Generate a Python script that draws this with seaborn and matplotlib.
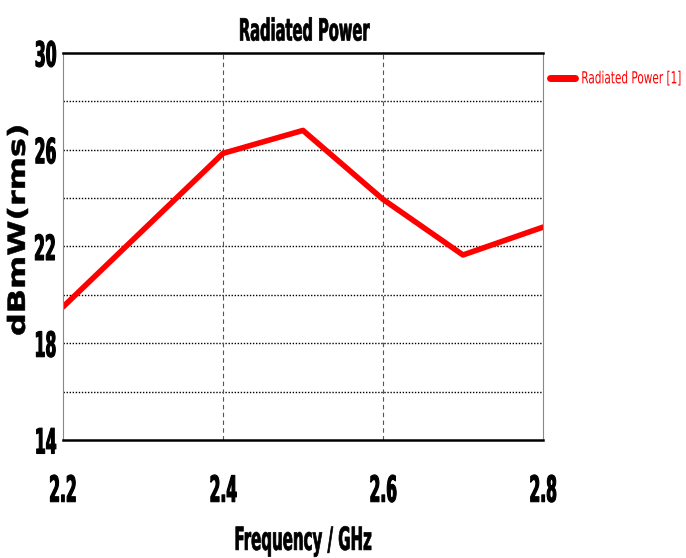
import matplotlib
matplotlib.use("Agg")
import matplotlib.pyplot as plt
import seaborn as sns
import pandas as pd
from matplotlib.patheffects import AbstractPathEffect
from matplotlib.transforms import Affine2D

freq = [2.2, 2.4, 2.5, 2.6, 2.7, 2.8]
power = [19.5, 25.85, 26.8, 23.95, 21.65, 22.8]
series_name = "Radiated Power [1]"
x_ticks = [2.2, 2.4, 2.6, 2.8]
y_ticks = [14, 18, 22, 26, 30]


class Squeeze(AbstractPathEffect):
    """Horizontally rescale glyph outlines (text stays a Text artist)."""
    def __init__(self, sx=0.5, anchor="center", stroke=0.0):
        super().__init__()
        self.sx = sx
        self.anchor = anchor
        self.stroke = stroke

    def draw_path(self, renderer, gc, tpath, affine, rgbFace=None):
        ext = tpath.get_extents()
        if self.anchor == "right":
            cx = ext.x1
        elif self.anchor == "left":
            cx = 0.0
        else:
            cx = 0.5 * (ext.x0 + ext.x1)
        t = Affine2D().translate(-cx, 0).scale(self.sx, 1.0).translate(cx, 0) + affine
        gc0 = renderer.new_gc()
        gc0.copy_properties(gc)
        if self.stroke > 0 and rgbFace is not None:
            gc0.set_linewidth(self.stroke)
            gc0.set_foreground(rgbFace)
            gc0.set_joinstyle("round")
        renderer.draw_path(gc0, tpath, t, rgbFace)
        gc0.restore()


sns.set_theme(style="white")
plt.rcParams['font.family'] = ['DejaVu Sans']
plt.rcParams['text.color'] = 'black'
plt.rcParams['axes.labelcolor'] = 'black'
plt.rcParams['xtick.color'] = 'black'
plt.rcParams['ytick.color'] = 'black'

df = pd.DataFrame({"freq": freq, "power": power, "series": series_name})

fig = plt.figure(figsize=(6.86, 5.58), dpi=100)
ax = fig.add_axes([0.0918, 0.2115, 0.6997, 0.6935])
sns.lineplot(data=df, x="freq", y="power", hue="series", palette=["#ff0000"],
             linewidth=4, ax=ax, legend=True)

ax.set_xlim(2.2, 2.8)
ax.set_ylim(14, 30)
ax.set_xticks(x_ticks)
ax.set_xticklabels([f"{v:.1f}" for v in x_ticks], fontsize=26, fontweight="bold")
ax.set_yticks(y_ticks)
ax.set_yticklabels([str(v) for v in y_ticks], fontsize=25, fontweight="bold")
for lab in ax.get_xticklabels():
    lab.set_path_effects([Squeeze(0.43, "center", 0.8)])
for lab in ax.get_yticklabels():
    lab.set_path_effects([Squeeze(0.45, "right", 0.8)])

for yv in [16, 18, 20, 22, 24, 26, 28]:
    ax.axhline(yv, color="black", linestyle=(0, (1, 1.2)), linewidth=1.0, zorder=0)
for xv in [2.4, 2.6]:
    ax.axvline(xv, color="#555555", linestyle=(0, (4, 3)), linewidth=0.8, zorder=0)

for s in ["left", "right"]:
    ax.spines[s].set_color("#888888")
    ax.spines[s].set_linewidth(0.8)
for s in ["top", "bottom"]:
    ax.spines[s].set_color("black")
    ax.spines[s].set_linewidth(1.8)

ax.tick_params(axis="x", pad=25, length=0)
ax.tick_params(axis="y", pad=4, length=0)

title = ax.set_title("Radiated Power", fontsize=22, fontweight="bold", pad=9)
title.set_path_effects([Squeeze(0.48, "center", 0.5)])

ax.set_xlabel("Frequency / GHz", fontsize=23, fontweight="bold")
ax.xaxis.label.set_va("top")
ax.xaxis.set_label_coords(0.5, -0.222)
ax.xaxis.label.set_path_effects([Squeeze(0.47, "center", 0.5)])

ax.set_ylabel("dBmW(rms)", fontsize=17, fontweight="bold")
ax.yaxis.label.set_va("center")
ax.yaxis.set_label_coords(-0.094, 0.543)
ax.yaxis.label.set_path_effects([Squeeze(1.35, "center", 0.4)])

leg = ax.legend(loc="upper left", bbox_to_anchor=(1.0, 0.975), frameon=False,
                fontsize=12, handlelength=1.5, handletextpad=0.4,
                borderaxespad=0.2, borderpad=0.2)
for t in leg.get_texts():
    t.set_color("#ff0000")
    t.set_path_effects([Squeeze(0.63, "left")])
for h in leg.get_lines():
    h.set_linewidth(5)

fig.savefig("out.png", dpi=100)
